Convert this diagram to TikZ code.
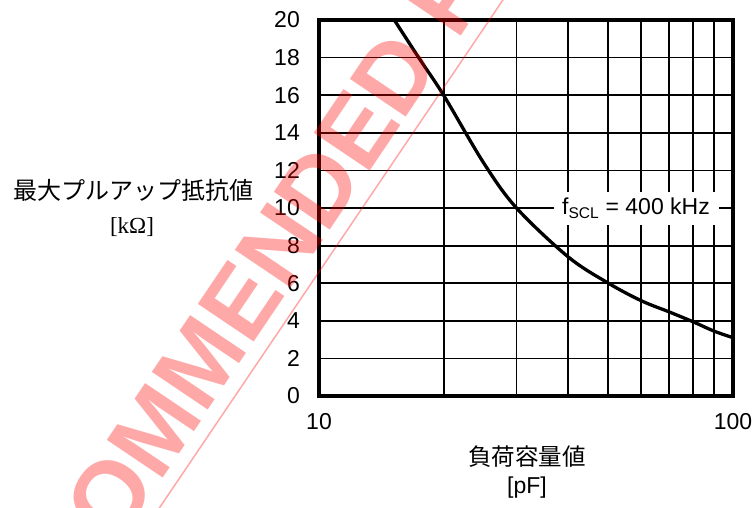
\documentclass[tikz,border=0pt]{standalone}
\usepackage{fontspec}
\setmainfont{Liberation Sans}
\newfontfamily\jpfont{Noto Sans CJK JP}
\newfontfamily\seriffont{Liberation Serif}
\begin{document}
\begin{tikzpicture}[x=1pt,y=1pt,
  gridline/.style={line width=1.8pt, black},
  framebox/.style={line width=4pt, black},
  curveline/.style={line width=3.3pt, black, line join=round},
  ticklabel/.style={font=\fontsize{23}{27}\selectfont, inner sep=0pt},
  axislabel/.style={font=\fontsize{24}{28}\selectfont\jpfont, inner sep=0pt},
  unitlabel/.style={font=\fontsize{23}{27}\selectfont, inner sep=0pt},
  wmark/.style={red, opacity=0.34}
]
\useasboundingbox (0,0) rectangle (754,507);
% grid
\foreach \c in {20,30,...,90}{
  \pgfmathsetmacro\gx{319+414*log10(\c/10)}
  \draw[gridline] (\gx,111) -- (\gx,487);
}
\foreach \r in {2,4,...,18}{
  \draw[gridline] (319,{111+18.8*\r}) -- (733,{111+18.8*\r});
}
% curve
\draw[curveline] plot[smooth, tension=0.55] coordinates {
  (394.3,487) (419.6,448) (443.6,411.8) (483.7,344) (516.5,299)
  (568.3,250) (608.4,223.8) (641.2,206.3) (668.9,195.2)
  (692.9,185.3) (714.0,175.9) (733,169.3)};
% label
\node[fill=white, inner sep=0pt, minimum width=165pt, minimum height=33pt,
  font=\fontsize{23}{27}\selectfont] (fscl) at (636,298.5)
  {f\textsubscript{\fontsize{15.5}{17}\selectfont SCL} = 400 kHz};
% frame
\draw[framebox] (319,111) rectangle (733,487);
% tick labels
\foreach \r in {0,2,...,20}{
  \node[ticklabel, anchor=east] (yl\r) at (300,{111+18.8*\r}) {\r};
}
\node[ticklabel] (xl10) at (319,85) {10};
\node[ticklabel] (xl100) at (733,85) {100};
% axis labels
\node[axislabel] (ylab) at (133,317) {最大プルアップ抵抗値};
\node[unitlabel, font=\fontsize{23}{27}\selectfont\seriffont] (yunit) at (132,280) {[kΩ]};
\node[axislabel, font=\fontsize{23.5}{28}\selectfont\jpfont] (xlab) at (527,50) {負荷容量値};
\node[unitlabel] (xunit) at (527,19) {[pF]};
% watermark
\begin{scope}
  \clip (0,0) rectangle (754,507);
  \node[wmark, rotate=56, anchor=base west, inner sep=0pt,
    font=\fontsize{98}{100}\selectfont\bfseries] (wm) at (116.5,-39.7) {OMMENDED FO};
  \coordinate (wla) at (104,-82.8);
  \coordinate (wlb) at (552,579.6);
  \draw[wmark, line width=1.5pt] (wla) -- (wlb);
\end{scope}
\end{tikzpicture}
\end{document}
